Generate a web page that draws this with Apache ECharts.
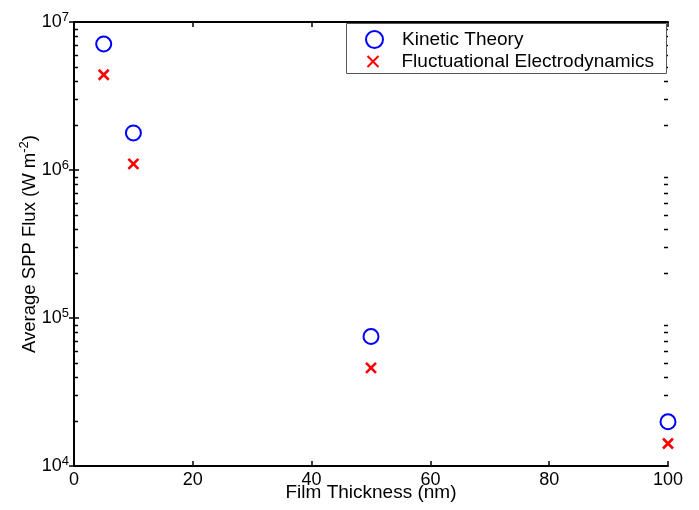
<!DOCTYPE html>
<html>
<head>
<meta charset="utf-8">
<script src="https://cdn.jsdelivr.net/npm/echarts@6/dist/echarts.min.js"></script>
<style>html,body{margin:0;padding:0;background:#fff;}#c{width:699px;height:510px;}</style>
</head>
<body>
<div id="c"></div>
<script>
var thickness = [5, 10, 50, 100];
var kineticTheory = [7.1e6, 1.78e6, 7.5e4, 1.99e4];
var fluctuational = [4.4e6, 1.1e6, 4.6e4, 1.42e4];
var xTicks = [0, 20, 40, 60, 80, 100];
var yExponents = [4, 5, 6, 7];
var minorMultipliers = [2, 3, 4, 5, 6, 7, 8, 9];
var seriesNames = ['Kinetic Theory', 'Fluctuational Electrodynamics'];

var yMin = Math.pow(10, yExponents[0]);
var yMax = Math.pow(10, yExponents[yExponents.length - 1]);
var minorVals = [];
for (var e = yExponents[0]; e < yExponents[yExponents.length - 1]; e++) {
  minorMultipliers.forEach(function (m) { minorVals.push([m * Math.pow(10, e)]); });
}

var FONT = 'Liberation Sans, Arial, sans-serif';
var chart = echarts.init(document.getElementById('c'));
var crossPath = 'path://M0,0L10,10M10,0L0,10';

function yLabel(v) {
  var ex = Math.round(Math.log10(v));
  return '{b|10}{s|' + ex + '}';
}
var richY = {
  b: { fontSize: 18, fontFamily: FONT, color: '#000' },
  s: { fontSize: 13, fontFamily: FONT, color: '#000', verticalAlign: 'top', padding: [0, 0, 10, 0] }
};

chart.setOption({
  animation: false,
  backgroundColor: '#fff',
  grid: { left: 74, right: 31, top: 22, bottom: 44, outerBoundsMode: 'none', containLabel: false },
  graphic: [{
    type: 'rect', left: 346, top: 23, z: 10,
    shape: { width: 320, height: 50 },
    style: { fill: '#fff', stroke: '#555', lineWidth: 1 }
  }],
  legend: [{
    left: 365, top: 30, z: 20,
    padding: 0,
    itemWidth: 17, itemHeight: 17,
    textStyle: { fontSize: 19, fontFamily: FONT, color: '#000', padding: [0, 0, 0, 14] },
    data: [seriesNames[0]]
  }, {
    left: 365, top: 52, z: 20,
    padding: 0,
    itemWidth: 11, itemHeight: 11,
    textStyle: { fontSize: 19, fontFamily: FONT, color: '#000', padding: [0, 0, 0, 18] },
    data: [seriesNames[1]]
  }],
  xAxis: [{
    type: 'value', min: xTicks[0], max: xTicks[xTicks.length - 1], interval: 20,
    name: 'Film Thickness (nm)', nameLocation: 'middle', nameGap: 17, nameMoveOverlap: false,
    nameTextStyle: { fontSize: 19, fontFamily: FONT, color: '#000' },
    axisLine: { lineStyle: { color: '#000', width: 2 } },
    axisTick: { inside: true, length: 5, lineStyle: { color: '#000', width: 1.5 } },
    axisLabel: { fontSize: 18, fontFamily: FONT, color: '#000', margin: 5 },
    splitLine: { show: false }
  }, {
    type: 'value', position: 'top', min: xTicks[0], max: xTicks[xTicks.length - 1], interval: 20,
    axisLine: { show: true, lineStyle: { color: '#000', width: 2 } },
    axisTick: { inside: true, length: 5, lineStyle: { color: '#000', width: 1.5 } },
    axisLabel: { show: false }, splitLine: { show: false }
  }],
  yAxis: [{
    type: 'log', logBase: 10, min: yMin, max: yMax,
    name: '{n|Average SPP Flux (W m}{s|-2}{n|)}', nameLocation: 'middle', nameGap: 33, nameRotate: 90, nameMoveOverlap: false,
    nameTextStyle: { rich: {
      n: { fontSize: 18.5, fontFamily: FONT, color: '#000' },
      s: { fontSize: 13, fontFamily: FONT, color: '#000', verticalAlign: 'top', padding: [0, 0, 10, 0] }
    } },
    axisLine: { show: true, lineStyle: { color: '#000', width: 2 } },
    axisTick: { inside: true, length: 5, lineStyle: { color: '#000', width: 1.5 } },
    axisLabel: { formatter: yLabel, rich: richY, margin: 5 },
    splitLine: { show: false }
  }, {
    type: 'log', logBase: 10, min: yMin, max: yMax, position: 'right',
    axisLine: { show: true, lineStyle: { color: '#000', width: 2 } },
    axisTick: { inside: true, length: 5, lineStyle: { color: '#000', width: 1.5 } },
    axisLabel: { show: false }, splitLine: { show: false }
  }],
  series: [{
    type: 'custom',
    silent: true,
    xAxisIndex: 0, yAxisIndex: 0,
    data: minorVals,
    renderItem: function (params, api) {
      var cs = params.coordSys;
      var y = api.coord([0, api.value(0)])[1];
      y = Math.round(y) + 0.5;
      return {
        type: 'group',
        children: [
          { type: 'line', shape: { x1: cs.x, y1: y, x2: cs.x + 4, y2: y }, style: { stroke: '#000', lineWidth: 1.5 } },
          { type: 'line', shape: { x1: cs.x + cs.width - 4, y1: y, x2: cs.x + cs.width, y2: y }, style: { stroke: '#000', lineWidth: 1.5 } }
        ]
      };
    },
    encode: { y: 0 },
    z: 1
  }, {
    name: seriesNames[0],
    type: 'scatter',
    data: thickness.map(function (x, i) { return [x, kineticTheory[i]]; }),
    symbol: 'emptyCircle', symbolSize: 15,
    itemStyle: { color: '#0000ff', borderColor: '#0000ff', borderWidth: 2.4, opacity: 1 },
    z: 3
  }, {
    name: seriesNames[1],
    type: 'scatter',
    data: thickness.map(function (x, i) { return [x, fluctuational[i]]; }),
    symbol: crossPath, symbolSize: 10,
    itemStyle: { color: 'none', borderColor: '#ff0000', borderWidth: 2.6, opacity: 1 },
    z: 3
  }]
});
</script>
</body>
</html>
